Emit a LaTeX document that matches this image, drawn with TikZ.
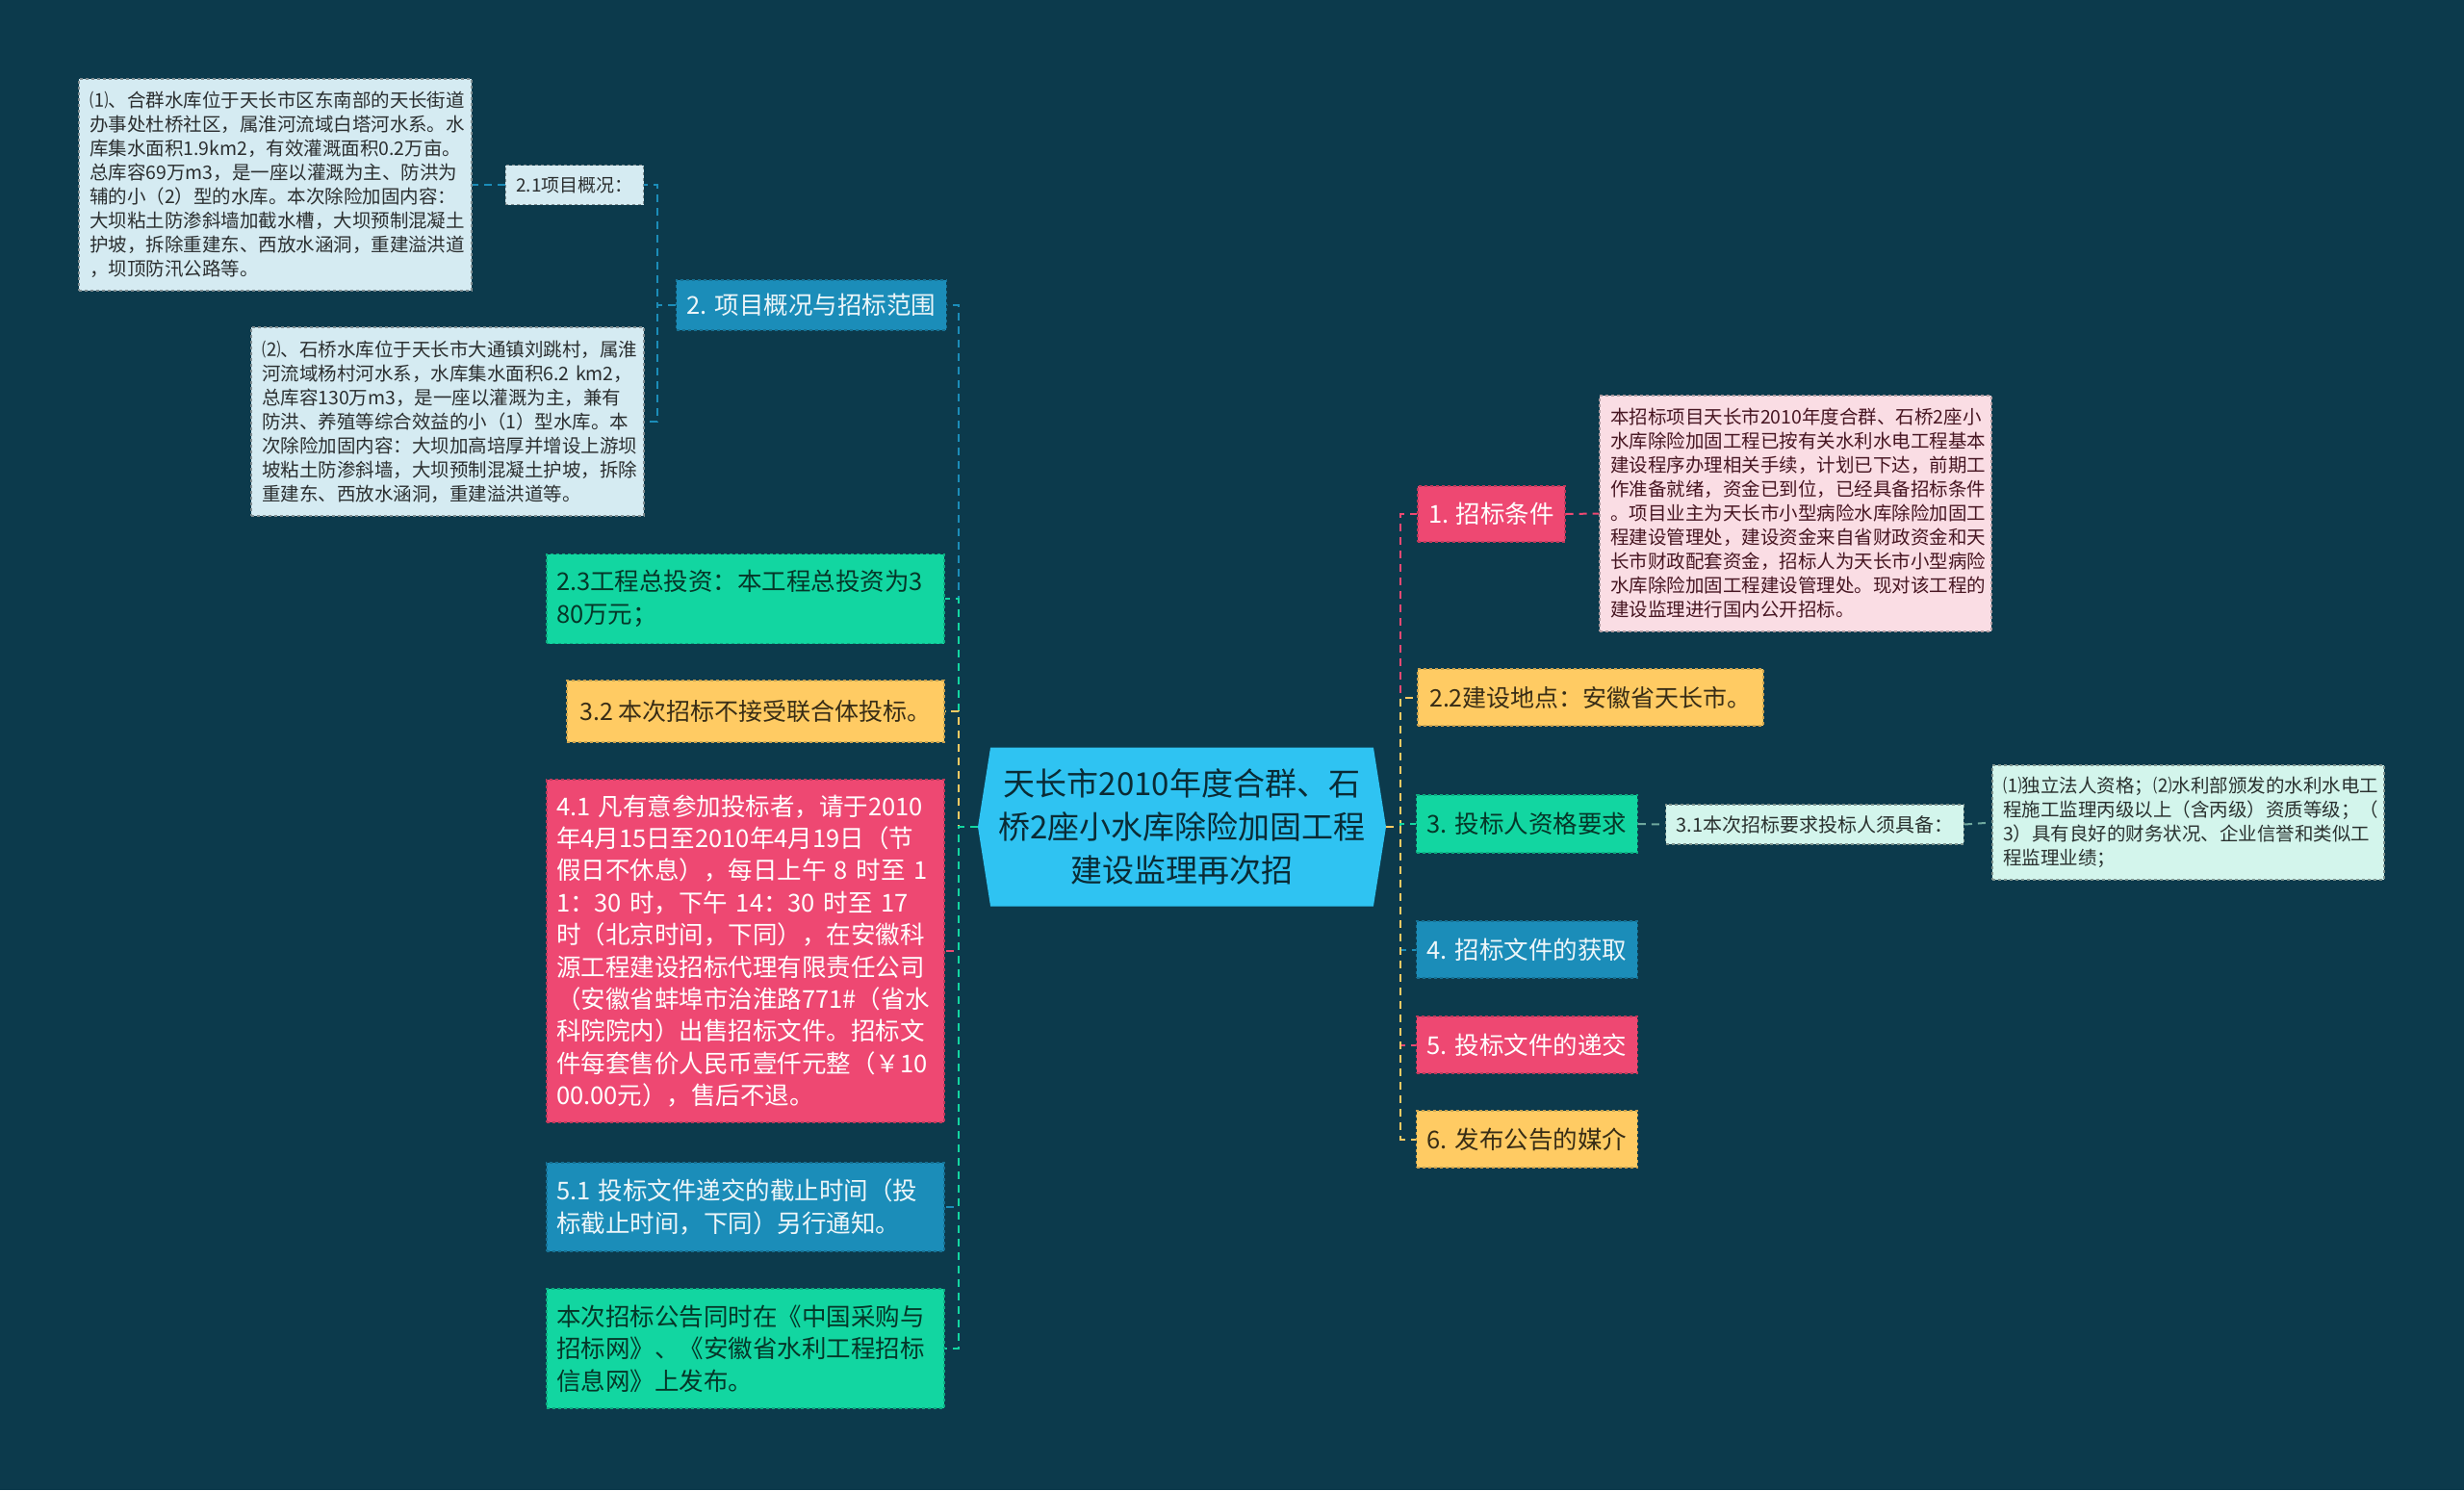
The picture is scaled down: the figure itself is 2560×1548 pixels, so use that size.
\documentclass[tikz,border=0pt]{standalone}
\usepackage{fontspec}
\setmainfont{Noto Sans CJK SC}
\usepackage{tikz}
\usetikzlibrary{shapes.symbols}

\definecolor{bg}{HTML}{0C3A4C}
\definecolor{rootc}{HTML}{2FC3F2}
\definecolor{bluec}{HTML}{1B8DB9}
\definecolor{greenc}{HTML}{12D6A1}
\definecolor{yellowc}{HTML}{FFCB63}
\definecolor{pinkc}{HTML}{EE4872}
\definecolor{lbluec}{HTML}{D5EBF2}
\definecolor{lpinkc}{HTML}{FADDE4}
\definecolor{lmintc}{HTML}{D3F5EC}
\definecolor{linkc}{HTML}{6FA89E}

\begin{document}
\begin{tikzpicture}[x=1pt,y=-1pt,
	box/.style={draw, dashed, line width=1.2pt, inner xsep=11pt, inner ysep=6pt},
	topic/.style={box, font=\fontsize{25.5}{31}\selectfont, minimum height=58pt, align=center},
	para/.style={box, font=\fontsize{25.5}{33.4}\selectfont, align=left, inner xsep=10pt, text width=393pt},
	note/.style={box, font=\fontsize{19.5}{25}\selectfont, align=left},
	blu/.style={fill=bluec, draw=bluec!80!black, text=white!92!bluec},
	grn/.style={fill=greenc, draw=greenc!80!black, text=black!75!greenc},
	yel/.style={fill=yellowc, draw=yellowc!80!black, text=black!78!yellowc},
	pnk/.style={fill=pinkc, draw=pinkc!80!black, text=white},
	lbl/.style={fill=lbluec, draw=lbluec!60!black, text=black!80!lbluec},
	lpk/.style={fill=lpinkc, draw=lpinkc!70!black, text=black!70!pinkc},
	lmt/.style={fill=lmintc, draw=lmintc!60!black, text=black!80!lmintc},
	link/.style={dashed, dash pattern=on 8pt off 6pt, line width=2pt}
	]
	\fill[bg] (0,0) rectangle (2560,1548);
	
	% Root
	\node[shape=signal, signal to=west and east, signal pointer angle=162, minimum width=424pt, minimum height=165pt,
		fill=rootc, text=black!78!rootc, inner sep=0pt, align=center, font=\fontsize{33}{45}\selectfont]
		(root) at (1228,859) {天长市2010年度合群、石\\桥2座小水库除险加固工程\\建设监理再次招};
	
	% Left side
	\node[topic, blu, minimum width=276pt, minimum height=52pt] (xmgk) at (843,317) {2. 项目概况与招标范围};
	\node[note, lbl, font=\fontsize{19}{24}\selectfont, minimum width=143pt, minimum height=41pt, align=center] (gk) at (597,192) {2.1项目概况：};
	\node[note, lbl, text width=386pt, minimum height=220pt] (hequn) at (286,192) {⑴、合群水库位于天长市区东南部的天长街道\\办事处杜桥社区，属淮河流域白塔河水系。水\\库集水面积1.9km2，有效灌溉面积0.2万亩。\\总库容69万m3，是一座以灌溉为主、防洪为\\辅的小（2）型的水库。本次除险加固内容：\\大坝粘土防渗斜墙加截水槽，大坝预制混凝土\\护坡，拆除重建东、西放水涵洞，重建溢洪道\\，坝顶防汛公路等。};
	\node[note, lbl, text width=386pt, minimum height=196pt] (shiqiao) at (465,438) {⑵、石桥水库位于天长市大通镇刘跳村，属淮\\河流域杨村河水系，水库集水面积6.2~km2，\\总库容130万m3，是一座以灌溉为主，兼有\\防洪、养殖等综合效益的小（1）型水库。本\\次除险加固内容：大坝加高培厚并增设上游坝\\坡粘土防渗斜墙，大坝预制混凝土护坡，拆除\\重建东、西放水涵洞，重建溢洪道等。};
	\node[para, grn, minimum height=93pt] (touzi) at (774.5,622) {2.3工程总投资：本工程总投资为3\\80万元；};
	\node[topic, yel, font=\fontsize{25}{33}\selectfont, minimum width=392pt, minimum height=64pt] (lianhe) at (785,739) {3.2 本次招标不接受联合体投标。};
	\node[para, pnk, minimum height=356pt] (goumai) at (774.5,988) {4.1~凡有意参加投标者，请于2010\\年4月15日至2010年4月19日（节\\假日不休息），每日上午~8~时至~1\\1：30~时，下午~14：30~时至~17\\时（北京时间，下同），在安徽科\\源工程建设招标代理有限责任公司\\（安徽省蚌埠市治淮路771\#（省水\\科院院内）出售招标文件。招标文\\件每套售价人民币壹仟元整（￥10\\00.00元），售后不退。};
	\node[para, blu, minimum height=92pt] (jiezhi) at (774.5,1254) {5.1~投标文件递交的截止时间（投\\标截止时间，下同）另行通知。};
	\node[para, grn, minimum height=124pt] (fabu) at (774.5,1401) {本次招标公告同时在《中国采购与\\招标网》、《安徽省水利工程招标\\信息网》上发布。};
	
	% Right side
	\node[topic, pnk, minimum width=153pt] (tiaojian) at (1549.5,534) {1. 招标条件};
	\node[note, lpk, text width=385pt, minimum height=245pt] (tjtext) at (1865.5,533.5) {本招标项目天长市2010年度合群、石桥2座小\\水库除险加固工程已按有关水利水电工程基本\\建设程序办理相关手续，计划已下达，前期工\\作准备就绪，资金已到位，已经具备招标条件\\。项目业主为天长市小型病险水库除险加固工\\程建设管理处，建设资金来自省财政资金和天\\长市财政配套资金，招标人为天长市小型病险\\水库除险加固工程建设管理处。现对该工程的\\建设监理进行国内公开招标。};
	\node[topic, yel, font=\fontsize{25}{33}\selectfont, minimum width=359pt, minimum height=59pt] (didian) at (1652.5,724.5) {2.2建设地点：安徽省天长市。};
	\node[topic, grn, minimum width=227pt, minimum height=60pt] (zige) at (1586.5,856) {3. 投标人资格要求};
	\node[note, lmt, font=\fontsize{20}{25}\selectfont, minimum width=297pt, minimum height=41pt, align=center] (jubei) at (1885.5,856.5) {3.1本次招标要求投标人须具备：};
	\node[note, lmt, text width=385pt, minimum height=119pt] (jbtext) at (2273.5,854.5) {⑴独立法人资格；⑵水利部颁发的水利水电工\\程施工监理丙级以上（含丙级）资质等级；（\\3）具有良好的财务状况、企业信誉和类似工\\程监理业绩；};
	\node[topic, blu, minimum width=227pt, minimum height=59pt] (huoqu) at (1586.5,986.5) {4. 招标文件的获取};
	\node[topic, pnk, minimum width=227pt, minimum height=59pt] (dijiao) at (1586.5,1085.5) {5. 投标文件的递交};
	\node[topic, yel, minimum width=227pt, minimum height=59pt] (meijie) at (1586.5,1183.5) {6. 发布公告的媒介};
	
	% Connectors, left
	\draw[link, bluec] (root.west) -- ++(-20,0) |- (xmgk.east);
	\draw[link, greenc] (root.west) -- ++(-20,0) |- (touzi.east);
	\draw[link, yellowc] (root.west) -- ++(-20,0) |- (lianhe.east);
	\draw[link, pinkc] (root.west) -- ++(-20,0) |- (goumai.east);
	\draw[link, bluec] (root.west) -- ++(-20,0) |- (jiezhi.east);
	\draw[link, greenc] (root.west) -- ++(-20,0) |- (fabu.east);
	\draw[link, bluec] (xmgk.west) -- ++(-19,0) |- (gk.east);
	\draw[link, bluec] (xmgk.west) -- ++(-19,0) |- (shiqiao.east);
	\draw[link, bluec] (gk.west) -- (hequn.east);
	
	% Connectors, right
	\draw[link, pinkc] (root.east) -- ++(15,0) |- (tiaojian.west);
	\draw[link, yellowc] (root.east) -- ++(15,0) |- (didian.west);
	\draw[link, greenc] (root.east) -- ++(15,0) |- (zige.west);
	\draw[link, bluec] (root.east) -- ++(15,0) |- (huoqu.west);
	\draw[link, pinkc] (root.east) -- ++(15,0) |- (dijiao.west);
	\draw[link, yellowc] (root.east) -- ++(15,0) |- (meijie.west);
	\draw[link, pinkc] (tiaojian.east) -- (tjtext.west);
	\draw[link, linkc] (zige.east) -- (jubei.west);
	\draw[link, linkc] (jubei.east) -- (jbtext.west);
\end{tikzpicture}
\end{document}
